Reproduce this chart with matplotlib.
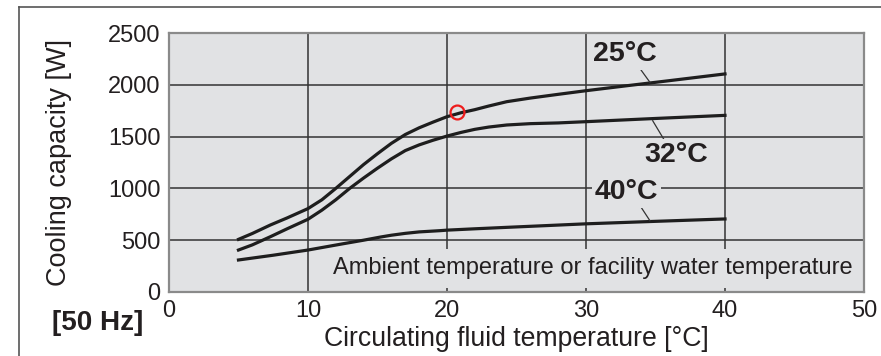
import matplotlib.pyplot as plt
from matplotlib.lines import Line2D

# curves: circulating fluid temp [C] -> cooling capacity [W]
x25 = [5, 6, 7.3, 8.5, 10, 11, 12, 13, 14, 15, 16, 17, 18, 19, 20, 21, 22, 23,
       24.3, 26, 28, 30, 33, 36, 40]
y25 = [508, 565, 647, 715, 805, 890, 1000, 1115, 1230, 1335, 1435, 1520, 1585,
       1640, 1692, 1730, 1760, 1795, 1837, 1872, 1908, 1943, 1992, 2040, 2105]

x32 = [5, 6, 7.3, 8.5, 10, 11, 12, 13, 14, 15, 16, 17, 18, 19, 20, 21, 22, 23,
       24.3, 26, 28, 30, 35, 40]
y32 = [405, 455, 534, 610, 702, 790, 890, 1000, 1100, 1195, 1285, 1365, 1420,
       1465, 1505, 1540, 1570, 1592, 1612, 1625, 1632, 1644, 1675, 1705]

x40 = [5, 7.5, 10, 12.5, 14, 15.2, 16, 17, 18, 19.5, 20, 22, 24.3, 27, 30, 35, 40]
y40 = [309, 355, 405, 465, 500, 530, 548, 566, 580, 592, 597, 610, 624, 640, 658,
       682, 705]

# highlighted operating point (red circle)
mark_x = [20.7]
mark_y = [1734]

xticks = [0, 10, 20, 30, 40, 50]
yticks = [0, 500, 1000, 1500, 2000, 2500]

plt.rcParams['font.family'] = ['Liberation Sans', 'DejaVu Sans']
txt = '#231f20'
bg = '#e1e2e4'

fig = plt.figure(figsize=(8.81, 3.56), dpi=100)
ax = fig.add_axes([0.1918, 0.1798, 0.7889, 0.7275])
ax.set_facecolor(bg)
ax.set_xlim(0, 50)
ax.set_ylim(0, 2500)
ax.set_xticks(xticks)
ax.set_yticks(yticks)
ax.tick_params(length=0, labelsize=17, colors=txt, pad=6)
ax.grid(True, color='#333333', lw=1.1, zorder=1)
ax.set_axisbelow(True)
for s in ax.spines.values():
    s.set_color('#8a8a8a')
    s.set_linewidth(1.6)
    s.set_zorder(5)

for xs, ys in [(x25, y25), (x32, y32), (x40, y40)]:
    ax.plot(xs, ys, color='#1e1e1e', lw=2.3, zorder=3, solid_joinstyle='round')

ax.plot(mark_x, mark_y, 'o', ms=10, mfc='none', mec='#ee1c1c', mew=1.6, zorder=6)

box = dict(facecolor=bg, edgecolor='none', pad=2)
labels = [('25°C', (32.8, 2295), (33.7, 2191), (34.6, 2024)),
          ('32°C', (36.5, 1322), (34.8, 1653), (35.6, 1474)),
          ('40°C', (32.9, 962), (33.75, 862), (34.6, 688))]
for lab, (tx, ty), p0, p1 in labels:
    ax.text(tx, ty, lab, ha='center', va='center', fontsize=20.5, fontweight='bold',
            color=txt, bbox=box, zorder=4)
    ax.plot([p0[0], p1[0]], [p0[1], p1[1]], color='#333333', lw=0.9, zorder=3)

ax.text(49.2, 228, 'Ambient temperature or facility water temperature', ha='right',
        va='center', fontsize=17, color=txt, zorder=4,
        bbox=dict(facecolor=bg, edgecolor='none', pad=6))

ax.set_xlabel('Circulating fluid temperature [°C]', fontsize=19.2, color=txt, labelpad=3)
ax.set_ylabel('Cooling capacity [W]', fontsize=19.5, color=txt, labelpad=26)

fig.text(0.059, 0.093, '[50 Hz]', fontsize=20, fontweight='bold', color=txt, va='center')

# outer frame of the figure panel
fig.add_artist(Line2D([0.0216, 1.0], [0.980, 0.980], color='#555555', lw=1.2,
                      transform=fig.transFigure))
fig.add_artist(Line2D([0.0216, 0.0216], [0.0, 0.980], color='#555555', lw=1.2,
                      transform=fig.transFigure))

fig.savefig('out.png', dpi=100)
